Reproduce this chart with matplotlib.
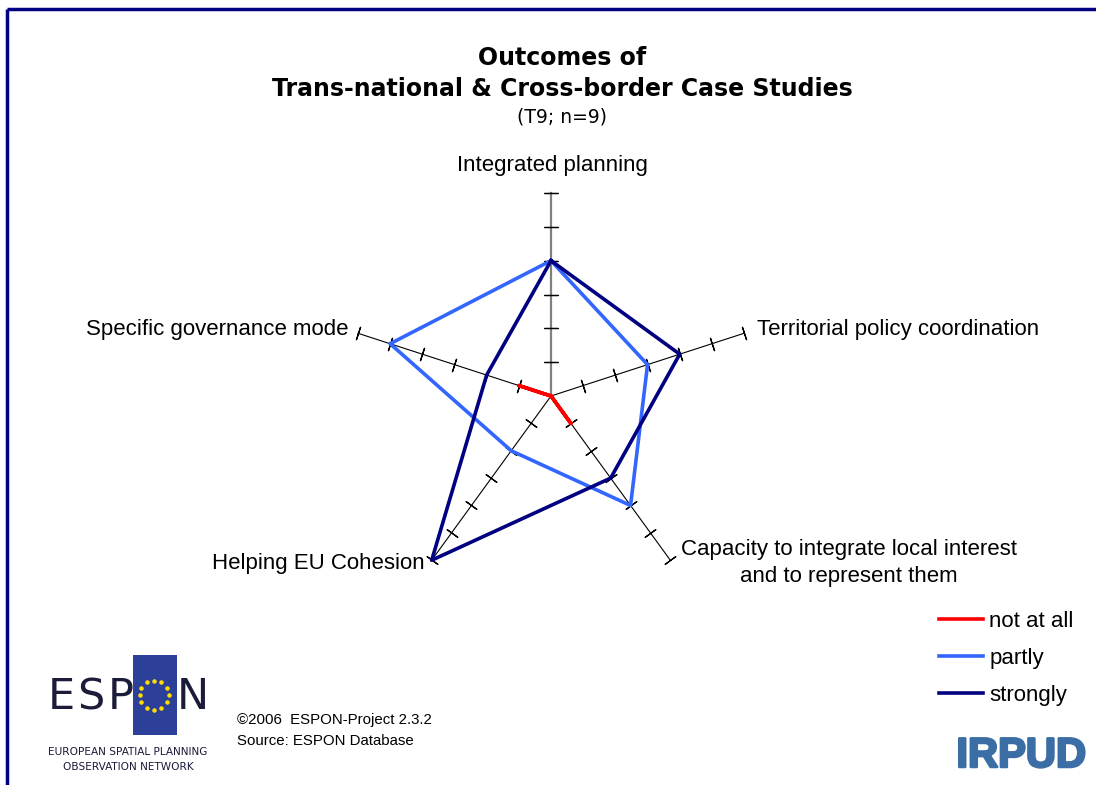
import numpy as np
import matplotlib
matplotlib.use("Agg")
import matplotlib.pyplot as plt
import matplotlib.patheffects as pe
from matplotlib.patches import Rectangle

# --- data (scale 0..6) ---
categories = ["Integrated planning", "Territorial policy coordination",
              "Capacity to integrate local interest\nand to represent them",
              "Helping EU Cohesion", "Specific governance mode"]
not_at_all = [0, 0, 1, 0, 1]
partly = [4, 3, 4, 2, 5]
strongly = [4, 4, 3, 6, 2]
series_names = ["not at all", "partly", "strongly"]
series_colors = ["#ff0000", "#3366ff", "#000080"]
rmax = 6

W, H = 1096, 785
fig = plt.figure(figsize=(W / 100, H / 100), dpi=100)
fig.patch.set_facecolor("white")

# pixel-coordinate overlay for frame, titles, logos
bg = fig.add_axes([0, 0, 1, 1])
bg.set_xlim(0, W)
bg.set_ylim(H, 0)
bg.set_axis_off()

# slide frame (top and left edges)
bg.plot([7, W], [9, 9], color="#000080", lw=2.5, solid_capstyle="butt")
bg.plot([7, 7], [9, H], color="#000080", lw=2.5, solid_capstyle="butt")

# titles
bg.text(562, 58, "Outcomes of", ha="center", va="center", fontsize=17,
        fontweight="bold", family="DejaVu Sans")
bg.text(562, 89, "Trans-national & Cross-border Case Studies", ha="center",
        va="center", fontsize=17, fontweight="bold", family="DejaVu Sans")
bg.text(562, 117, "(T9; n=9)", ha="center", va="center", fontsize=13.5,
        family="DejaVu Sans")

# --- radar ---
cx, cy, rad = 551, 396, 203
ax = fig.add_axes([(cx - rad) / W, (H - cy - rad) / H, 2 * rad / W, 2 * rad / H],
                  projection="polar")
ax.set_theta_offset(np.pi / 2)
ax.set_theta_direction(-1)
ax.set_ylim(0, rmax)
ax.set_axis_off()

n = len(categories)
angles = np.linspace(0, 2 * np.pi, n, endpoint=False)
levels = np.arange(1, rmax + 1)

for i, a in enumerate(angles):
    spoke_col = "#808080" if i == 0 else "black"
    spoke_lw = 1.6 if i == 0 else 0.8
    ax.plot([a, a], [0, rmax], color=spoke_col, lw=spoke_lw, zorder=1, clip_on=False)
    screen_deg = 90 - np.degrees(a)
    ax.plot([a] * len(levels), levels, linestyle="none",
            marker=(2, 2, screen_deg), ms=10, mew=0.9, color="black", zorder=1,
            clip_on=False)

closed = np.append(angles, angles[0])
for name, vals, col in zip(series_names, [not_at_all, partly, strongly], series_colors):
    v = np.append(vals, vals[0])
    ax.plot(closed, v, color=col, lw=2.6, label=name, zorder=3, clip_on=False)

# category labels
lab_font = "Liberation Sans"
fs = 16
bg.text(552, 165, categories[0], ha="center", va="center", fontsize=fs, family=lab_font)
bg.text(757, 330, categories[1], ha="left", va="center", fontsize=fs, family=lab_font)
bg.text(849, 563, categories[2], ha="center", va="center", fontsize=fs,
        family=lab_font, linespacing=1.4)
bg.text(425, 563, categories[3], ha="right", va="center", fontsize=fs, family=lab_font)
bg.text(349, 330, categories[4], ha="right", va="center", fontsize=fs, family=lab_font)

# legend
handles, labels = ax.get_legend_handles_labels()
leg = fig.legend(handles, labels, loc="upper left",
                 bbox_to_anchor=(919 / W, 1 - 591 / H), frameon=False,
                 prop={"family": lab_font, "size": fs}, handlelength=2.0,
                 handletextpad=0.27, labelspacing=0.72)

# footer
bg.text(237, 720, "\u00a92006  ESPON-Project 2.3.2", ha="left", va="center",
        fontsize=10.8, family=lab_font)
bg.text(237, 741, "Source: ESPON Database", ha="left", va="center",
        fontsize=10.8, family=lab_font)

# ESPON logo
navy = "#1b1b3a"
bg.add_patch(Rectangle((133, 655), 44, 80, facecolor="#2c3f99", edgecolor="none"))
star_ang = np.linspace(0, 2 * np.pi, 12, endpoint=False)
bg.scatter(154 + 14.5 * np.cos(star_ang), 695 + 14.5 * np.sin(star_ang),
           s=5, color="#ffdd00", zorder=5)
for letter, x in zip("ESPN", [61, 91, 121, 193]):
    bg.text(x, 697, letter, ha="center", va="center", fontsize=31,
            family="Liberation Sans Narrow", color=navy)
bg.text(128, 752, "EUROPEAN SPATIAL PLANNING", ha="center", va="center",
        fontsize=7.6, family="Liberation Sans Narrow", color=navy)
bg.text(128, 767, "OBSERVATION NETWORK", ha="center", va="center",
        fontsize=7.6, family="Liberation Sans Narrow", color=navy)

# IRPUD logo
bg.text(1021, 756, "IRPUD", ha="center", va="center", fontsize=30,
        fontweight="bold", family=lab_font, color="#3a6ea5",
        path_effects=[pe.withStroke(linewidth=1.8, foreground="#3a6ea5")])

fig.savefig("out.png", dpi=100)
